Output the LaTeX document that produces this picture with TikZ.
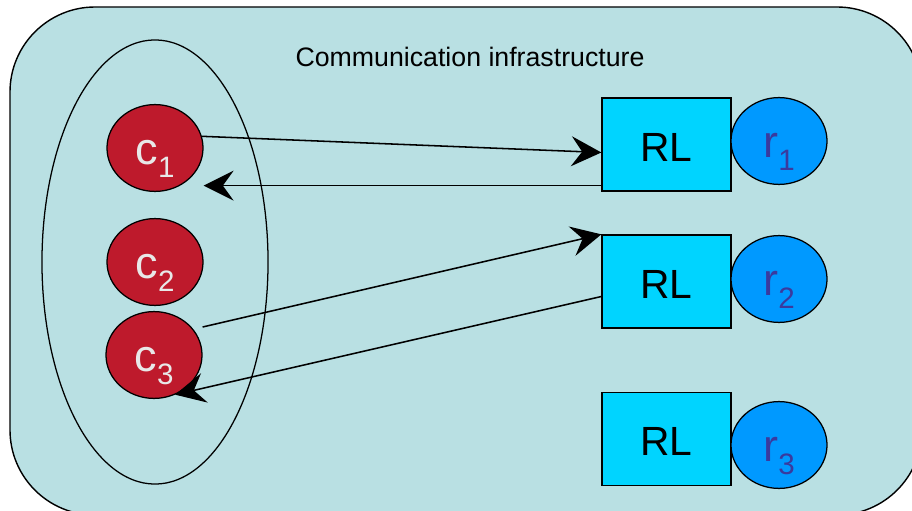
\documentclass[tikz,border=0pt]{standalone}
\usepackage{fontspec}
\setmainfont{Liberation Sans}
\usetikzlibrary{arrows.meta,calc,shapes.geometric}

\definecolor{infra}{HTML}{B9E0E3}
\definecolor{clred}{HTML}{BE1A2C}
\definecolor{cltext}{HTML}{E8E8E8}
\definecolor{rlcyan}{HTML}{00D4FF}
\definecolor{resblue}{HTML}{0099FF}
\definecolor{restext}{HTML}{3A3A9E}

\newcommand{\lowidx}[1]{\raisebox{-9pt}[0pt][0pt]{\fontsize{21}{21}\selectfont #1}}

\begin{document}
\begin{tikzpicture}[x=0.025cm,y=-0.025cm]
    \tikzstyle{client}=[ellipse,draw,fill=clred,text=cltext,minimum width=2.4cm,minimum height=2.17cm,inner sep=0pt,line width=0.9pt,text height=24pt,text depth=0pt,font=\fontsize{32}{32}\selectfont]
    \tikzstyle{relay}=[rectangle,draw,fill=rlcyan,minimum width=3.225cm,minimum height=2.325cm,inner sep=0pt,line width=0.9pt,text height=24pt,text depth=0pt,font=\fontsize{29}{29}\selectfont]
    \tikzstyle{resource}=[client,fill=resblue,text=restext]
    \tikzstyle{conn}=[line width=1.1pt,-{Stealth[length=0.75cm,width=0.75cm,inset=0.27cm]}]

    \useasboundingbox (0,0) rectangle (912,511);
    \clip (0,0) rectangle (912,511);

    \draw[line width=1pt,fill=infra,rounded corners=2.125cm] (10,7) rectangle (922,515);
    \node[font=\fontsize{19}{19}\selectfont] (title) at (470,57) {Communication infrastructure};

    \node[ellipse,draw,line width=0.9pt,minimum width=5.65cm,minimum height=11.1cm,inner sep=0pt] (group) at (155,262) {};

    \node[client] (c1) at (155,148) {c\lowidx{1}};
    \node[client] (c2) at (155,262) {c\lowidx{2}};
    \node[client] (c3) at (154,355) {c\lowidx{3}};

    \node[relay] (rl1) at (666.5,144.5) {RL};
    \node[relay] (rl2) at (666.5,281.5) {RL};
    \node[relay] (rl3) at (666.5,439) {RL};

    \node[resource] (r1) at (779,141) {r\lowidx{1}};
    \node[resource] (r2) at (779,279) {r\lowidx{2}};
    \node[resource] (r3) at (779,445) {r\lowidx{3}};

    \draw[conn] (c1.14) -- ($(rl1.west)+(0,8)$);
    \draw[conn] ($(rl1.south west)+(0,-6)$) coordinate (back1) -- (back1 -| c1.east);
    \draw[conn] ($(c3.east)+(0,-28)$) -- (rl2.north west);
    \draw[conn] ($(rl2.west)+(0,15)$) -- (c3.-62);

\end{tikzpicture}
\end{document}
